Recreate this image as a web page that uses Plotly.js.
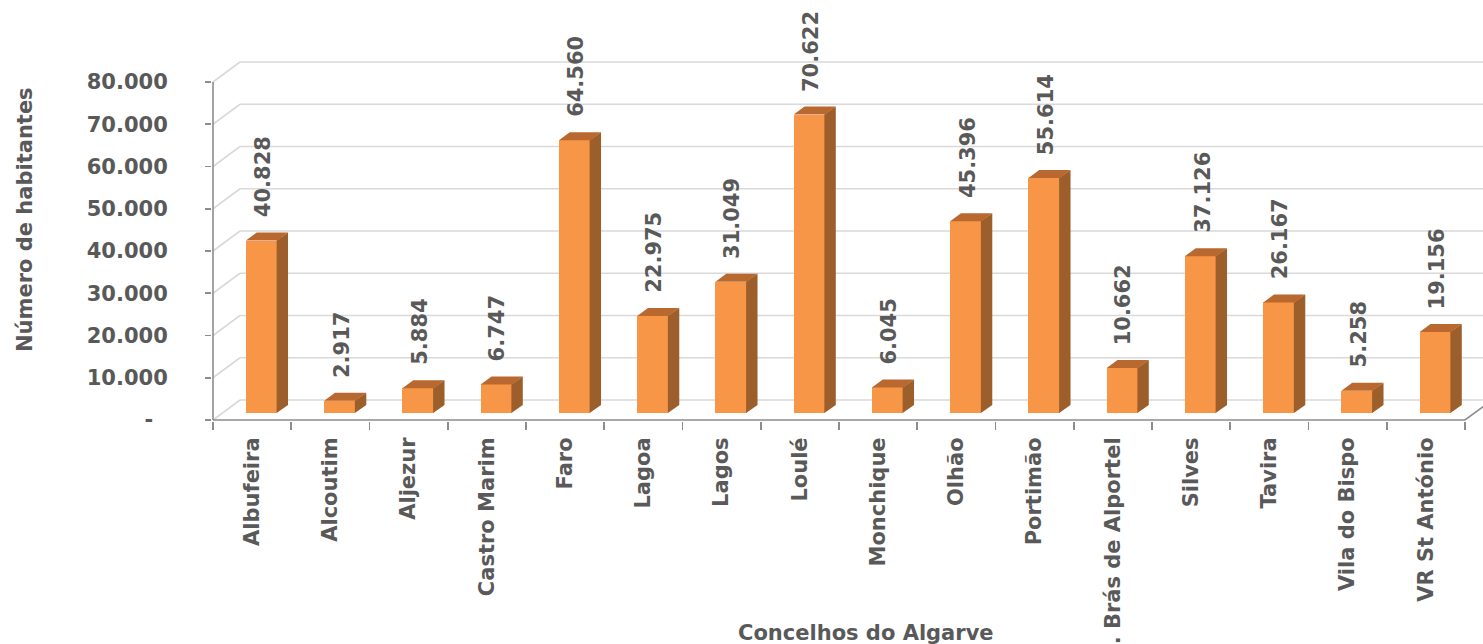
<!DOCTYPE html>
<html>
<head>
<meta charset="utf-8">
<script src="https://cdn.plot.ly/plotly-3.0.1.min.js"></script>
<style>
html,body{margin:0;padding:0;background:#fff;}
#chart{width:1483px;height:644px;}
</style>
</head>
<body>
<div id="chart"></div>
<script>
// ---- data ----
const categories = ["Albufeira","Alcoutim","Aljezur","Castro Marim","Faro","Lagoa","Lagos","Loulé","Monchique","Olhão","Portimão","S. Brás de Alportel","Silves","Tavira","Vila do Bispo","VR St António"];
const habitantes = [40828, 2917, 5884, 6747, 64560, 22975, 31049, 70622, 6045, 45396, 55614, 10662, 37126, 26167, 5258, 19156];
const yTickValues = [0, 10000, 20000, 30000, 40000, 50000, 60000, 70000, 80000];
const yTickLabels = ["-\u00a0\u00a0", "10.000", "20.000", "30.000", "40.000", "50.000", "60.000", "70.000", "80.000"];
const xTitle = "Concelhos do Algarve";
const yTitle = "Número de habitantes";

// ---- geometry / style ----
const W = 1483, H = 644;
const PX = 78.25;          // px per category
const PY = 0.004225;       // px per value unit
const plotL = 212, plotR = W, plotT = 40, plotB = 421;
const x0px = 213, y0px = 420;
const DX = 27 / PX;        // depth offset (categories)
const DY = 20 / PY;        // depth offset (values)
const f0 = 0.35, f1 = 0.75, BW = 0.4;
const SEAM = 0.6 / PX;     // tiny overlap to hide anti-alias seams
const N = categories.length;

const xRange = [(plotL - x0px) / PX, (plotR - x0px) / PX];
const yRange = [(y0px - plotB) / PY, (y0px - plotT) / PY];

const C_FRONT = "#F79646", C_SIDE = "#9C5E2B", C_TOP = "#B9692F";
const C_GRID = "#D9D9D9", C_AXIS = "#8C8C8C", C_TEXT = "#595959";
const FONT = "DejaVu Sans, Verdana, sans-serif";
const FS = 21;

const centers = categories.map((c, i) => i + 0.5);

// back-wall gridlines (incl. side wall diagonals) as shapes below the traces
const shapes = [];
yTickValues.forEach(v => {
  shapes.push({type: "line", xref: "x", yref: "y", x0: 0, y0: v, x1: DX, y1: v + DY,
    line: {color: C_GRID, width: 1.6}, layer: "below"});
  shapes.push({type: "line", xref: "x", yref: "y", x0: DX, y0: v + DY, x1: N + 2, y1: v + DY,
    line: {color: C_GRID, width: 1.6}, layer: "below"});
});

// front axis lines
const axisTrace = {
  x: [0, 0, null, 0, N, N + DX * 1.5],
  y: [yTickValues[yTickValues.length - 1], 0, null, 0, 0, DY * 1.5],
  mode: "lines", line: {color: C_AXIS, width: 1.6}, hoverinfo: "skip", showlegend: false
};

// bar front faces
const frontTrace = {
  type: "bar", x: centers.map(c => c + f0 * DX), y: habitantes,
  base: habitantes.map(() => f0 * DY), width: BW,
  marker: {color: C_FRONT, line: {width: 0}}, showlegend: false, hoverinfo: "skip"
};

// side and top faces
const sx = [], sy = [], tx = [], ty = [];
habitantes.forEach((v, i) => {
  const xl = i + 0.5 - BW / 2, xr = i + 0.5 + BW / 2;
  const xa = xr + f0 * DX - SEAM, xb = xr + f1 * DX;
  sx.push(xa, xa, xb, xb, xa, null);
  sy.push(f0 * DY, v + f0 * DY, v + f1 * DY, f1 * DY, f0 * DY, null);
  tx.push(xl + f0 * DX, xr + f0 * DX, xr + f1 * DX, xl + f1 * DX, xl + f0 * DX, null);
  ty.push(v + f0 * DY, v + f0 * DY, v + f1 * DY, v + f1 * DY, v + f0 * DY, null);
});
const sideTrace = {x: sx, y: sy, mode: "lines", fill: "toself", fillcolor: C_SIDE,
  line: {width: 0, color: C_SIDE}, hoverinfo: "skip", showlegend: false};
const topTrace = {x: tx, y: ty, mode: "lines", fill: "toself", fillcolor: C_TOP,
  line: {width: 0, color: C_TOP}, hoverinfo: "skip", showlegend: false};

// data labels
const fmt = v => v.toString().replace(/\B(?=(\d{3})+(?!\d))/g, ".");
const annotations = habitantes.map((v, i) => ({
  x: i + 0.5 + f0 * DX + 0.02, y: v + f0 * DY, xref: "x", yref: "y",
  text: fmt(v), showarrow: false, textangle: -90, yanchor: "bottom", xanchor: "center",
  yshift: 21, font: {family: FONT, size: FS, color: C_TEXT, weight: "bold"}
}));
annotations.push({
  xref: "paper", yref: "paper", x: (25 - plotL) / (plotR - plotL), y: (plotB - 220) / (plotB - plotT),
  text: yTitle, textangle: -90, showarrow: false, xanchor: "center", yanchor: "middle",
  font: {family: FONT, size: FS, color: C_TEXT, weight: "bold"}
});
annotations.push({
  xref: "paper", yref: "paper", x: (866 - plotL) / (plotR - plotL), y: (plotB - 633) / (plotB - plotT),
  text: xTitle, showarrow: false, xanchor: "center", yanchor: "middle",
  font: {family: FONT, size: FS, color: C_TEXT, weight: "bold"}
});

const boundaries = [];
for (let i = 0; i <= N; i++) boundaries.push(i);

const layout = {
  width: W, height: H,
  margin: {l: plotL, r: W - plotR, t: plotT, b: H - plotB, pad: 0},
  paper_bgcolor: "#fff", plot_bgcolor: "rgba(0,0,0,0)",
  showlegend: false,
  shapes: shapes,
  xaxis: {
    range: xRange, showgrid: false, zeroline: false, showline: false,
    tickmode: "array", tickvals: centers, ticktext: categories, tickangle: -90,
    ticks: "outside", ticklen: 7, tickcolor: "rgba(0,0,0,0)",
    tickfont: {family: FONT, size: FS, color: C_TEXT, weight: "bold"},
    minor: {tickmode: "array", tickvals: boundaries, ticks: "outside", ticklen: 8, tickwidth: 1.6, tickcolor: C_AXIS, showgrid: false},
    fixedrange: true
  },
  yaxis: {
    range: yRange, showgrid: false, zeroline: false, showline: false,
    tickmode: "array", tickvals: yTickValues, ticktext: yTickLabels,
    ticks: "outside", ticklen: 6, tickwidth: 1.6, tickcolor: C_AXIS,
    ticklabelstandoff: 33,
    tickfont: {family: FONT, size: FS, color: C_TEXT, weight: "bold"},
    fixedrange: true
  },
  annotations: annotations,
  bargap: 0
};

Plotly.newPlot("chart", [axisTrace, frontTrace, sideTrace, topTrace], layout, {displayModeBar: false, staticPlot: true});
</script>
</body>
</html>
